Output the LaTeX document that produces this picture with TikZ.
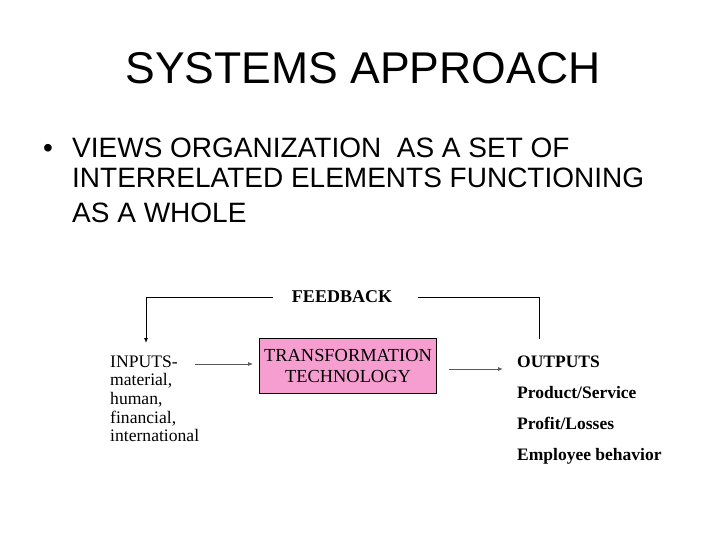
\documentclass[tikz,border=0pt]{standalone}
\usepackage{fontspec}
\setmainfont{Liberation Serif}
\newfontfamily\slidefont{Liberation Sans}
\usetikzlibrary{arrows.meta}
\definecolor{boxpink}{RGB}{247,158,208}

\begin{document}
\begin{tikzpicture}[x=1pt,y=-1pt,
    line/.style={black,line width=0.9pt},
    flow/.style={->,>={Latex[length=5pt,width=4pt]},line width=0.9pt},
    txt/.style={inner sep=0pt,anchor=base west}]
    \useasboundingbox (0,0) rectangle (728,546);

    % heading and bullet
    \node (title) [inner sep=0pt,anchor=base,font=\slidefont\fontsize{44.5}{50}\selectfont] at (363,83) {SYSTEMS APPROACH};
    \node (dot) [inner sep=0pt,anchor=base,font=\slidefont\fontsize{28}{32}\selectfont] at (48,157) {\textbullet};
    \node (bl1) [txt,font=\slidefont\fontsize{28}{32}\selectfont] at (72,157) {VIEWS ORGANIZATION\ \ AS A SET OF};
    \node (bl2) [txt,font=\slidefont\fontsize{28}{32}\selectfont] at (72,187) {INTERRELATED ELEMENTS FUNCTIONING};
    \node (bl3) [txt,font=\slidefont\fontsize{28}{32}\selectfont] at (72,222) {AS A WHOLE};

    % system
    \node (feedback) [inner sep=0pt,anchor=base,font=\bfseries\fontsize{18}{20}\selectfont] at (342,302) {FEEDBACK};
    \node (transform) [draw,line width=0.9pt,fill=boxpink,minimum width=177pt,minimum height=55pt,
        align=center,inner sep=0pt,font=\fontsize{18.4}{21}\selectfont] at (348,366) {TRANSFORMATION\\TECHNOLOGY};

    \foreach \t [count=\i] in {INPUTS-,material{,},human{,},financial{,},international}
        \node (in\i) [txt,font=\fontsize{17.6}{19}\selectfont] at (110,367+18.7*\i-18.7) {\t};

    \node (out1) [txt,font=\bfseries\fontsize{17.5}{19}\selectfont] at (517,367) {OUTPUTS};
    \node (out2) [txt,font=\bfseries\fontsize{17.5}{19}\selectfont] at (517,398) {Product/Service};
    \node (out3) [txt,font=\bfseries\fontsize{17.5}{19}\selectfont] at (517,429) {Profit/Losses};
    \node (out4) [txt,font=\bfseries\fontsize{17.5}{19}\selectfont] at (517,460) {Employee behavior};

    \coordinate (fbR) at (539,339);
    \coordinate (fbL) at (146,343);
    \draw [line] (fbR) -- (539,297) -- ([xshift=26pt]feedback.east |- 0,297);
    \draw [flow] ([xshift=-19pt]feedback.west |- 0,297) -- (146,297) -- (fbL);
    \draw [flow,gray!70!black] ([xshift=17pt]in1.east |- 0,364) -- ([xshift=-6pt]transform.west |- 0,364);
    \draw [flow,gray!70!black] ([xshift=12pt]transform.east |- 0,369) -- ([xshift=-14pt]out1.west |- 0,369);
  \end{tikzpicture}
\end{document}
